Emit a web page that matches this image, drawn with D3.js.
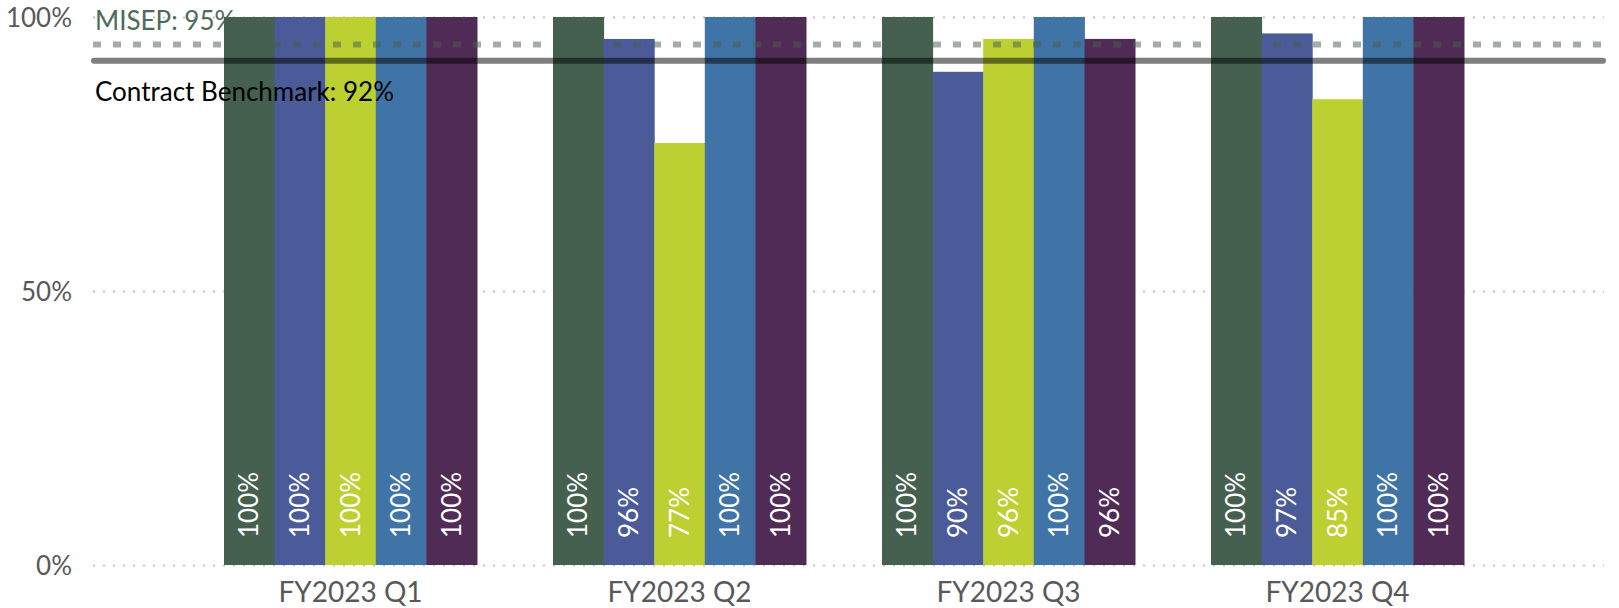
<!DOCTYPE html>
<html>
<head>
<meta charset="utf-8">
<script src="https://cdn.jsdelivr.net/npm/d3@7"></script>
<style>
  body { margin: 0; background: #fff; }
  .ejes text { font-family: Lato, "Open Sans", sans-serif; fill: #595959; }
</style>
</head>
<body>
<div id="graf"></div>
<script>
// datos
const trimestres = ["FY2023 Q1", "FY2023 Q2", "FY2023 Q3", "FY2023 Q4"]
const series = ["s1", "s2", "s3", "s4", "s5"]
const valores = [
  [1.00, 1.00, 1.00, 1.00, 1.00],
  [1.00, 0.96, 0.77, 1.00, 1.00],
  [1.00, 0.90, 0.96, 1.00, 0.96],
  [1.00, 0.97, 0.85, 1.00, 1.00]
]
const colores = ["#46604f", "#4b5a99", "#bdd032", "#4074a6", "#4f2b55"]
const misep = 0.95
const benchmark = 0.92
const yTicks = [0, 0.5, 1]

const ancho = 1619, alto = 608
const graf = d3.select("#graf")
const svg = graf.append("svg").attr("width", ancho).attr("height", alto)

const gridX0 = 93, gridX1 = 1604
const x = d3.scaleBand().domain(trimestres).range([186, 1502]).paddingInner(0.231).paddingOuter(0.1155)
const xs = d3.scaleBand().domain(series).range([0, x.bandwidth()])
const y = d3.scaleLinear().domain([0, 1]).range([565, 17])

// eje y + lineas guia punteadas
const yAxis = svg.append("g")
  .attr("class", "ejes")
  .attr("transform", `translate(${gridX0},0)`)
  .call(d3.axisLeft(y).tickValues(yTicks).tickFormat(d3.format(".0%")).tickSize(-(gridX1 - gridX0)).tickPadding(21))
yAxis.select(".domain").remove()
yAxis.selectAll("line").attr("stroke", "#c4c4c4").attr("stroke-width", 2).attr("stroke-dasharray", "2,8")
yAxis.selectAll("text").attr("font-size", 26).attr("dy", "0.35em")

// eje x
const xAxis = svg.append("g")
  .attr("class", "ejes")
  .attr("transform", `translate(0,${y(0)})`)
  .call(d3.axisBottom(x).tickSize(0).tickPadding(17))
xAxis.select(".domain").remove()
xAxis.selectAll("text").attr("font-size", 28)

// etiqueta MISEP (queda detras de las barras)
svg.append("text")
  .attr("x", 95).attr("y", 30)
  .attr("font-family", "Lato, 'Open Sans', sans-serif")
  .attr("font-size", 26)
  .attr("fill", "#4e6b5a")
  .text("MISEP: 95%")

// barras
const grupos = svg.selectAll("g.grupo")
  .data(trimestres)
  .enter()
  .append("g")
  .attr("class", "grupo")
  .attr("transform", (d) => `translate(${x(d)},0)`)

grupos.selectAll("rect")
  .data((d, i) => valores[i].map((v, j) => ({ s: series[j], v: v, c: colores[j] })))
  .enter()
  .append("rect")
  .attr("x", (d) => xs(d.s))
  .attr("y", (d) => y(d.v))
  .attr("width", xs.bandwidth() + 0.5)
  .attr("height", (d) => y(0) - y(d.v))
  .attr("fill", (d) => d.c)

grupos.selectAll("text")
  .data((d, i) => valores[i].map((v, j) => ({ s: series[j], v: v })))
  .enter()
  .append("text")
  .attr("transform", (d) => `translate(${xs(d.s) + xs.bandwidth() / 2},${y(0) - 27}) rotate(-90)`)
  .attr("dy", "0.35em")
  .attr("font-family", "Lato, 'Open Sans', sans-serif")
  .attr("font-size", 26)
  .attr("fill", "#fff")
  .text((d) => d3.format(".0%")(d.v))

// lineas de referencia
svg.append("line")
  .attr("x1", gridX0).attr("x2", gridX1)
  .attr("y1", y(misep)).attr("y2", y(misep))
  .attr("stroke", "#475d51").attr("stroke-opacity", 0.5)
  .attr("stroke-width", 6).attr("stroke-dasharray", "8,12")

svg.append("line")
  .attr("x1", 94).attr("x2", 1603)
  .attr("y1", y(benchmark)).attr("y2", y(benchmark))
  .attr("stroke", "#000").attr("stroke-opacity", 0.5)
  .attr("stroke-width", 6).attr("stroke-linecap", "round")

svg.append("text")
  .attr("x", 95).attr("y", 101)
  .attr("font-family", "Lato, 'Open Sans', sans-serif")
  .attr("font-size", 26)
  .attr("fill", "#000")
  .text("Contract Benchmark: 92%")
</script>
</body>
</html>
